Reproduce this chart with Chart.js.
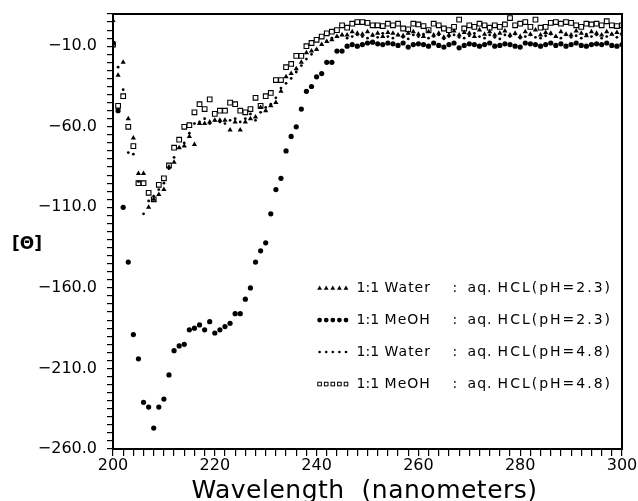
<!DOCTYPE html>
<html>
<head>
<meta charset="utf-8">
<script src="https://cdn.jsdelivr.net/npm/chart.js@4.4.1/dist/chart.umd.min.js"></script>
<style>
html,body{margin:0;padding:0;background:#fff;}
</style>
</head>
<body>
<canvas id="cdChart" width="638" height="501"></canvas>
<script>
// wavelength (nm)
var wavelength=[200,201,202,203,204,205,206,207,208,209,210,211,212,213,214,215,216,217,218,219,
220,221,222,223,224,225,226,227,228,229,230,231,232,233,234,235,236,237,238,239,
240,241,242,243,244,245,246,247,248,249,250,251,252,253,254,255,256,257,258,259,
260,261,262,263,264,265,266,267,268,269,270,271,272,273,274,275,276,277,278,279,
280,281,282,283,284,285,286,287,288,289,290,291,292,293,294,295,296,297,298,299,300];

// 1:1 Water : aq. HCL (pH=2.3)  - triangles
var waterPh23=[6,-28,-20,-55,-67,-89,-89,-110,-105,-102,-99,-85,-82,-73,-72,-66,-71,-58,-58,-57,
-56,-56,-56,-62,-57,-62,-57,-55,-54,-48,-50,-47,-45,-38,-29,-27,-24,-20,-14,-13,
-12,-9,-7,-6,-4,-3,-3,-1,-2,-2.5,-1,-3,-2,-4,-1.5,-2,-3,-3.5,-2,-1,
-2.5,-4,-1,-3,-2,-4.5,-3,-0.5,-3,-1.5,-2,-4,0,-2.5,-1,-3,-2,-0.5,-3,-2,
-4,-1,-2.5,0,-3,-1.5,-2,-4,-1,-2.5,-3,-0.5,-2,-3.5,-1,-2,-3,-1,-2.5,-1.5,-2];

// 1:1 MeOH : aq. HCL (pH=2.3)  - large dots
var meohPh23=[-8,-50,-110,-144,-189,-204,-231,-234,-247,-234,-229,-214,-199,-196,-195,-186,-185,-183,-186,-181,
-188,-186,-184,-182,-176,-176,-167,-160,-144,-137,-132,-114,-99,-92,-75,-66,-60,-49,-38,-35,
-29,-27,-20,-20,-13,-13,-10,-9,-10,-9,-8,-7.5,-8.5,-9,-8,-8.5,-9.5,-8,-10.5,-9,
-8.5,-9,-10,-8,-9.5,-10.5,-9,-8,-11,-9.5,-8.5,-9,-10,-9,-8,-10,-9.5,-8.5,-9,-10,
-10.5,-8,-8.5,-9,-10,-9,-8,-9.5,-8.5,-10,-9,-8,-9.5,-10,-9,-8.5,-9,-8,-9.5,-10,-9];

// 1:1 Water : aq. HCL (pH=4.8)  - small dots
var waterPh48=[-10,-23,-37,-76,-77,-94,-114,-106,-103,-99,-95,-86,-79,-73,-70,-64,-58,-57,-55,-58,
-56,-57,-58,-56,-55,-57,-55,-52,-56,-51,-48,-46,-42,-36,-33,-30,-26,-22,-18,-15,
-12,-9,-7,-5,-4,-3,-5,-4,-3,-4,-5,-3.5,-4.5,-2,-4,-5,-3,-4.5,-5.5,-3,
-4,-2.5,-5,-4,-3,-5.5,-4,-3,-4.5,-5,-3.5,-2,-4,-5,-3,-4.5,-5.5,-3,-4,-2.5,
-5,-4,-3,-4.5,-5,-3.5,-2.5,-4,-5,-3,-4.5,-3.5,-5,-2.5,-4,-3,-5,-4,-2.5,-4.5,-3.5];

// 1:1 MeOH : aq. HCL (pH=4.8)  - open squares
var meohPh48=[-9,-47,-41,-60,-72,-95,-95,-101,-105,-96,-92,-84,-73,-68,-60,-59,-51,-46,-49,-43,
-52,-50,-50,-45,-46,-50,-51,-49,-42,-47,-41,-39,-31,-31,-23,-21,-16,-16,-10,-8,
-6,-4,-2,-1,0,3,1.5,4,5,5,4.5,3,3,2.5,4,3,4,1,0.5,4,
3.5,2.5,0,4,3,1,0,2,6.5,1,3,2,4,3,1.5,3,2,3.5,7.5,3,
4,5,2,6.5,1.5,2,4.5,5,4,5,4.5,3,2,4,3.5,4,3,5.5,3,2.5,3];

var legendWords=[
  ["1:1","Water",":","aq.","HCL(pH=2.3)"],
  ["1:1","MeOH",":","aq.","HCL(pH=2.3)"],
  ["1:1","Water",":","aq.","HCL(pH=4.8)"],
  ["1:1","MeOH",":","aq.","HCL(pH=4.8)"]
];
var legendMarks=["tri","dot","small","sq"];

function pts(ys){
  var out=[];
  for(var i=0;i<wavelength.length;i++) out.push({x:wavelength[i],y:ys[i]});
  return out;
}

function mark(ctx,kind,x,y){
  ctx.fillStyle="#000";ctx.strokeStyle="#000";
  if(kind=="tri"){
    ctx.beginPath();ctx.moveTo(x,y-2.6);ctx.lineTo(x+2.4,y+1.8);ctx.lineTo(x-2.4,y+1.8);ctx.closePath();ctx.fill();
  } else if(kind=="dot"){
    ctx.beginPath();ctx.arc(x,y,2.4,0,Math.PI*2);ctx.fill();
  } else if(kind=="small"){
    ctx.beginPath();ctx.arc(x,y,1.3,0,Math.PI*2);ctx.fill();
  } else {
    ctx.lineWidth=1;ctx.strokeRect(x-1.8,y-1.8,3.6,3.6);
  }
}

var framePlugin={
  id:"frame",
  afterDraw:function(chart){
    var ctx=chart.ctx, a=chart.chartArea;
    ctx.save();
    ctx.strokeStyle="#000";ctx.lineWidth=2;
    ctx.strokeRect(a.left,a.top,a.right-a.left,a.bottom-a.top);
    // y title, horizontal
    ctx.font="bold 17px 'DejaVu Sans'";ctx.fillStyle="#000";
    ctx.textAlign="center";ctx.textBaseline="middle";
    ctx.fillText("[\u0398]",27,a.top+(a.bottom-a.top)*0.53);
    // x title
    ctx.font="25px 'DejaVu Sans'";
    ctx.letterSpacing="0.5px";
    ctx.textBaseline="alphabetic";
    ctx.fillText("Wavelength  (nanometers)",(a.left+a.right)/2-3,a.bottom+49);
    // legend
    var lx=a.left+(a.right-a.left)*0.4,ly=a.top+(a.bottom-a.top)*0.63;
    var wordOff=[40,68,136,151,181];
    var wordSp=["0px","1px","0px","1px","2px"];
    ctx.font="14px 'DejaVu Sans'";ctx.textAlign="left";ctx.textBaseline="middle";
    for(var r=0;r<legendWords.length;r++){
      var yy=ly+r*32;
      for(var k=0;k<5;k++) mark(ctx,legendMarks[r],lx+3+k*6.6,yy);
      ctx.fillStyle="#000";
      for(var w=0;w<5;w++){
        ctx.letterSpacing=wordSp[w];
        ctx.fillText(legendWords[r][w],lx+wordOff[w],yy);
      }
    }
    ctx.letterSpacing="0px";
    ctx.restore();
  }
};

var tickFont={family:"'DejaVu Sans'",size:16};

new Chart(document.getElementById("cdChart"),{
  type:"scatter",
  data:{datasets:[
    {label:"1:1 Water : aq. HCL(pH=2.3)",data:pts(waterPh23),pointStyle:"triangle",pointRadius:3,
     backgroundColor:"#000",borderColor:"#000",borderWidth:0},
    {label:"1:1 MeOH : aq. HCL(pH=2.3)",data:pts(meohPh23),pointStyle:"circle",pointRadius:2.6,
     backgroundColor:"#000",borderColor:"#000",borderWidth:0},
    {label:"1:1 Water : aq. HCL(pH=4.8)",data:pts(waterPh48),pointStyle:"circle",pointRadius:1.4,
     backgroundColor:"#000",borderColor:"#000",borderWidth:0},
    {label:"1:1 MeOH : aq. HCL(pH=4.8)",data:pts(meohPh48),pointStyle:"rect",pointRadius:3.3,
     backgroundColor:"#fff",borderColor:"#000",borderWidth:1.1}
  ]},
  options:{
    responsive:false,animation:false,
    layout:{padding:{left:0,top:14,right:16,bottom:0}},
    plugins:{legend:{display:false},tooltip:{enabled:false}},
    scales:{
      x:{type:"linear",min:200,max:300,
        afterFit:function(s){s.height=52;s.paddingLeft=0;s.paddingRight=0;},
        ticks:{stepSize:2,autoSkip:false,maxRotation:0,color:"#000",font:tickFont,padding:0,
          callback:function(v){return Math.round(v)%20===0?String(Math.round(v)):"";}},
        grid:{drawOnChartArea:false,tickLength:7,color:"#000",lineWidth:1.2},
        border:{color:"#000",width:2}
      },
      y:{min:-260,max:10,
        afterFit:function(s){s.width=113;s.paddingTop=0;s.paddingBottom=0;},
        ticks:{stepSize:5,autoSkip:false,color:"#000",font:tickFont,padding:10,
          callback:function(v){
            var n=Math.round(v);
            if((n+10)%50!==0) return "";
            return (n<0?"\u2212":"")+Math.abs(n).toFixed(1);
          }},
        grid:{drawOnChartArea:false,tickLength:6,color:"#000",lineWidth:1.2},
        border:{color:"#000",width:2}
      }
    }
  },
  plugins:[framePlugin]
});
</script>
</body>
</html>
